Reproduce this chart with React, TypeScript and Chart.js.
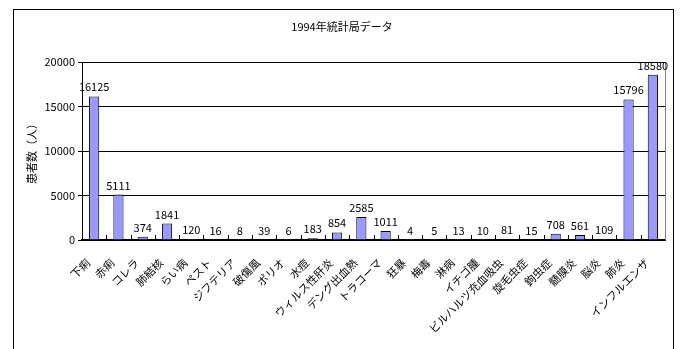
import React, { useEffect, useRef } from "react";
import { Chart, registerables } from "chart.js";

Chart.register(...registerables);

const categories = [
  "下痢", "赤痢", "コレラ", "肺結核", "らい病", "ペスト", "ジフテリア", "破傷風",
  "ポリオ", "水痘", "ウィルス性肝炎", "デング出血熱", "トラコーマ", "狂暴", "梅毒",
  "淋病", "イチゴ腫", "ビルハルツ充血吸虫", "旋毛虫症", "鉤虫症", "髄膜炎", "脳炎",
  "肺炎", "インフルエンザ",
];
const patients = [
  16125, 5111, 374, 1841, 120, 16, 8, 39, 6, 183, 854, 2585, 1011, 4, 5, 13, 10,
  81, 15, 708, 561, 109, 15796, 18580,
];
const yTicks = [0, 5000, 10000, 15000, 20000];
const chartTitle = "1994年統計局データ";
const yTitle = "患者数（人）";

const FONT = "'Noto Sans CJK JP', 'Noto Sans', sans-serif";

const decorPlugin = {
  id: "decor",
  beforeDraw(chart: any) {
    const ctx = chart.ctx;
    ctx.save();
    ctx.fillStyle = "#ffffff";
    ctx.fillRect(0, 0, chart.width, chart.height);
    ctx.strokeStyle = "#000000";
    ctx.lineWidth = 1;
    ctx.strokeRect(13.5, 9.5, 660, 360);
    ctx.restore();
  },
  afterDraw(chart: any) {
    const ctx = chart.ctx;
    const area = chart.chartArea;
    ctx.save();
    // plot area right edge
    ctx.strokeStyle = "#808080";
    ctx.lineWidth = 1;
    ctx.beginPath();
    ctx.moveTo(Math.round(area.right) + 0.5, area.top);
    ctx.lineTo(Math.round(area.right) + 0.5, area.bottom);
    ctx.stroke();
    // category boundary ticks pointing up
    ctx.strokeStyle = "#000000";
    const n = categories.length;
    const step = (area.right - area.left) / n;
    for (let i = 1; i < n; i++) {
      const x = Math.round(area.left + step * i) + 0.5;
      ctx.beginPath();
      ctx.moveTo(x, area.bottom);
      ctx.lineTo(x, area.bottom - 5);
      ctx.stroke();
    }
    // title
    ctx.fillStyle = "#000000";
    ctx.font = `11px ${FONT}`;
    ctx.textAlign = "center";
    ctx.textBaseline = "middle";
    ctx.fillText(chartTitle, 342, 27);
    // y title
    ctx.translate(32, (area.top + area.bottom) / 2);
    ctx.rotate(-Math.PI / 2);
    ctx.fillText(yTitle, 0, 0);
    ctx.restore();
    // value labels
    ctx.save();
    ctx.font = `11px ${FONT}`;
    ctx.fillStyle = "#000000";
    ctx.textAlign = "center";
    ctx.textBaseline = "alphabetic";
    const meta = chart.getDatasetMeta(0);
    meta.data.forEach((bar: any, i: number) => {
      ctx.fillText(String(patients[i]), bar.x, bar.y - 5);
    });
    ctx.restore();
  },
};

export default function App() {
  const ref = useRef<HTMLCanvasElement | null>(null);
  useEffect(() => {
    if (!ref.current) return;
    const chart = new Chart(ref.current, {
      type: "bar",
      data: {
        labels: categories,
        datasets: [
          {
            data: patients,
            backgroundColor: "#9999FF",
            borderColor: "#000000",
            borderWidth: 1,
            barPercentage: 0.84,
            categoryPercentage: 0.5,
          },
        ],
      },
      options: {
        responsive: false,
        animation: false,
        devicePixelRatio: 1,
        layout: { padding: { top: 62, right: 16, left: 0, bottom: 0 } },
        plugins: {
          legend: { display: false },
          tooltip: { enabled: false },
          title: { display: false },
        },
        scales: {
          x: {
            grid: { display: false },
            border: { display: true, color: "#000000", width: 2 },
            ticks: {
              autoSkip: false,
              maxRotation: 45,
              minRotation: 45,
              color: "#000000",
              padding: 8,
              labelOffset: -6,
              font: { family: FONT, size: 11 },
            },
            afterFit(scale: any) {
              scale.height = 109;
            },
          },
          y: {
            min: 0,
            max: 20000,
            afterBuildTicks(scale: any) {
              scale.ticks = yTicks.map((v) => ({ value: v }));
            },
            grid: {
              color: "#000000",
              lineWidth: 1,
              tickLength: 4,
            },
            border: { display: true, color: "#000000", width: 1 },
            ticks: {
              color: "#000000",
              padding: 3,
              font: { family: FONT, size: 11 },
              callback: (v: any) => String(v),
            },
            afterFit(scale: any) {
              scale.width = 82;
            },
          },
        },
      },
      plugins: [decorPlugin],
    });
    return () => chart.destroy();
  }, []);
  return (
    <div style={{ position: "fixed", left: 0, top: 0, width: 681, height: 349 }}>
      <canvas ref={ref} width={681} height={349} style={{ display: "block" }} />
    </div>
  );
}
